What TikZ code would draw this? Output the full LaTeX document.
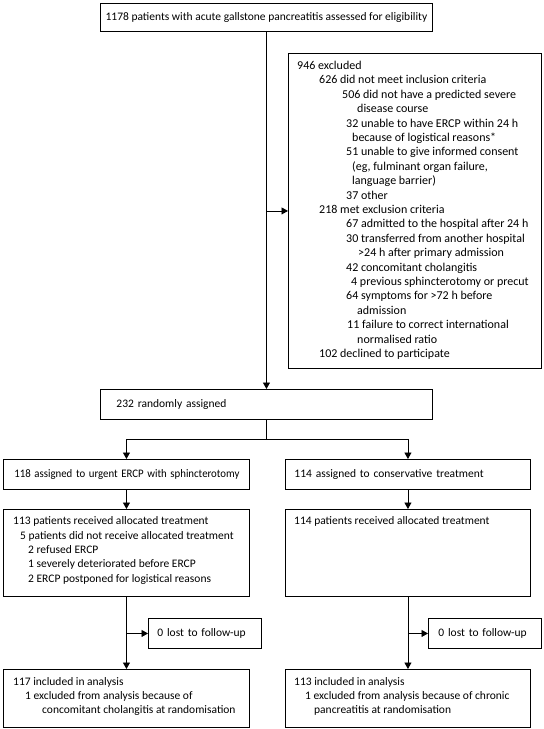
\documentclass[tikz,border=0pt]{standalone}
\usepackage{fontspec}
\usepackage{graphicx}
\setmainfont{Carlito}
\usetikzlibrary{arrows.meta}
\begin{document}
\begin{tikzpicture}[x=1pt,y=-1pt,
  box/.style={draw, line width=0.9pt, inner sep=0pt, anchor=north west, font=\fontsize{11.5}{14.4}\selectfont},
  lbox/.style={box, align=left, inner xsep=#1},
  txt/.style={inner sep=0pt, font=\fontsize{11.5}{14.4}\selectfont, align=left, anchor=north west},
  arr/.style={line width=0.9pt, -{Triangle[length=6.5pt,width=7pt]}},
  ln/.style={line width=0.9pt}]
\useasboundingbox[fill=white] (0,0) rectangle (544,729);

% boxes
\node[box, minimum width=332pt, minimum height=28pt] (top) at (100,3)
  {1178 patients with acute gallstone pancreatitis assessed for eligibility};
\node[box, minimum width=253pt, minimum height=315pt] (excl) at (288,53) {};
\node[lbox=16pt, text width=300pt, minimum height=30pt] (rand) at (100,389) {\mbox{232 randomly assigned}};
\node[lbox=11pt, text width=224pt, minimum height=30pt] (a118) at (3,459) {\scalebox{0.94}[1]{118 assigned to urgent ERCP with sphincterotomy}};
\node[lbox=9pt, text width=227pt, minimum height=30pt] (a114) at (285,459) {\mbox{114 assigned to conservative treatment}};
\node[box, minimum width=246pt, minimum height=87pt] (r113) at (3,509) {};
\node[box, minimum width=245pt, minimum height=87pt] (r114) at (285,509) {};
\node[lbox=9pt, text width=95pt, minimum height=30pt] (lostL) at (148,618) {\mbox{0 lost to follow-up}};
\node[lbox=10pt, text width=93pt, minimum height=30pt] (lostR) at (428,618) {\mbox{0 lost to follow-up}};
\node[box, minimum width=246pt, minimum height=58pt] (i117) at (3,669) {};
\node[box, minimum width=245pt, minimum height=58pt] (i113) at (285,669) {};

% texts
\node[txt, font=\fontsize{12}{14.4}\selectfont] (texcl) at (297,61) {946 excluded\\
\hspace*{22pt}626 did not meet inclusion criteria\\
\hspace*{45pt}506 did not have a predicted severe\\
\hspace*{60pt}disease course\\
\hspace*{49pt}32 unable to have ERCP within 24 h\\
\hspace*{55pt}because of logistical reasons*\\
\hspace*{49pt}51 unable to give informed consent\\
\hspace*{55pt}(eg, fulminant organ failure,\\
\hspace*{55pt}language barrier)\\
\hspace*{49pt}37 other\\
\hspace*{22pt}218 met exclusion criteria\\
\hspace*{49pt}67 admitted to the hospital after 24 h\\
\hspace*{49pt}30 transferred from another hospital\\
\hspace*{61pt}>24 h after primary admission\\
\hspace*{49pt}42 concomitant cholangitis\\
\hspace*{54pt}4 previous sphincterotomy or precut\\
\hspace*{49pt}64 symptoms for >72 h before\\
\hspace*{60pt}admission\\
\hspace*{50pt}11 failure to correct international\\
\hspace*{60pt}normalised ratio\\
\hspace*{22pt}102 declined to participate};

\node[txt] (t113) at (13,516.5) {113 patients received allocated treatment\\
\hspace*{7pt}5 patients did not receive allocated treatment\\
\hspace*{15pt}2 refused ERCP\\
\hspace*{15pt}1 severely deteriorated before ERCP\\
\hspace*{15pt}2 ERCP postponed for logistical reasons};
\node[txt] (t114) at (294,516.5) {114 patients received allocated treatment};
\node[txt] (t117) at (13,677) {117 included in analysis\\
\hspace*{12pt}1 excluded from analysis because of\\
\hspace*{29pt}concomitant cholangitis at randomisation};
\node[txt] (t113i) at (294,677) {113 included in analysis\\
\hspace*{11pt}1 excluded from analysis because of chronic\\
\hspace*{20pt}pancreatitis at randomisation};

% connectors
\draw[arr] (top) -- (rand);
\draw[arr] (top.south |- excl.west) -- (excl.west);
\draw[ln] (rand.south) -- ++(0,20) coordinate (sp);
\draw[arr] (sp) -| (a118.north);
\draw[arr] (sp) -| (a114.north);
\draw[arr] (a118) -- (r113);
\draw[arr] (a114) -- (r114);
\draw[arr] (r113) -- (i117);
\draw[arr] (r114) -- (i113);
\draw[arr] (r113.south |- lostL.west) -- (lostL.west);
\draw[arr] (r114.south |- lostR.west) -- (lostR.west);
\end{tikzpicture}
\end{document}
